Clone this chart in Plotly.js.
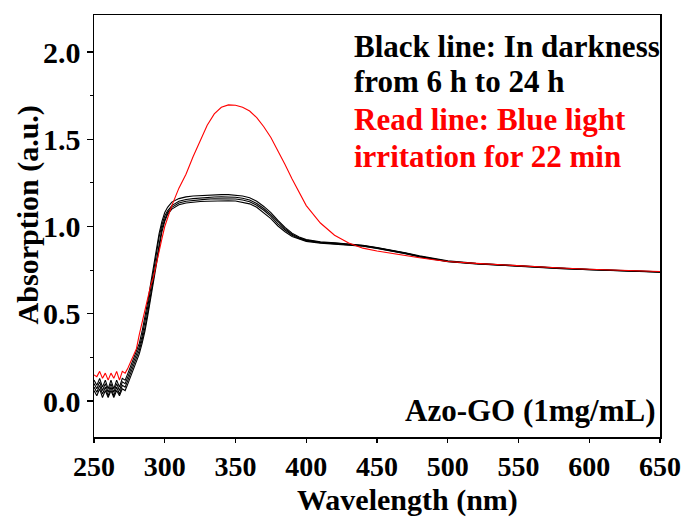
<!DOCTYPE html>
<html>
<head>
<meta charset="utf-8">
<script src="https://cdn.plot.ly/plotly-3.0.1.min.js"></script>
<style>html,body{margin:0;padding:0;background:#fff;}#chart{width:683px;height:518px;}</style>
</head>
<body>
<div id="chart"></div>
<script>
// Wavelength grid (nm)
var wavelength = [250,252,254,256,258,260,262,264,266,268,270,272,274,276,278,280,282,284,286,288,290,292,294,296,298,300,302,305,310,315,320,325,330,335,340,345,350,355,360,365,370,375,380,385,390,395,400,410,420,430,440,450,460,470,480,490,500,520,540,560,580,600,620,650];

// Black lines: in darkness from 6 h to 24 h
var dark1 = [0.12,0.09,0.13,0.08,0.12,0.07,0.12,0.07,0.12,0.08,0.13,0.12,0.16,0.20,0.24,0.28,0.33,0.40,0.48,0.57,0.67,0.77,0.87,0.96,1.03,1.08,1.11,1.14,1.16,1.17,1.175,1.178,1.180,1.182,1.183,1.183,1.180,1.175,1.165,1.145,1.115,1.08,1.035,0.995,0.962,0.94,0.925,0.912,0.907,0.902,0.893,0.880,0.866,0.850,0.832,0.817,0.803,0.789,0.779,0.770,0.762,0.755,0.750,0.741];
var dark2 = [0.10,0.07,0.11,0.06,0.10,0.05,0.10,0.05,0.10,0.06,0.11,0.10,0.14,0.18,0.22,0.26,0.31,0.37,0.45,0.54,0.64,0.74,0.84,0.94,1.01,1.06,1.09,1.12,1.145,1.155,1.16,1.164,1.167,1.169,1.170,1.170,1.168,1.162,1.152,1.132,1.103,1.068,1.025,0.988,0.956,0.936,0.922,0.910,0.905,0.900,0.891,0.878,0.864,0.848,0.830,0.815,0.801,0.788,0.778,0.769,0.761,0.754,0.749,0.740];
var dark3 = [0.08,0.05,0.09,0.04,0.08,0.03,0.08,0.03,0.08,0.04,0.09,0.08,0.12,0.16,0.20,0.24,0.29,0.35,0.42,0.51,0.61,0.71,0.81,0.91,0.99,1.04,1.08,1.11,1.135,1.145,1.150,1.154,1.157,1.159,1.160,1.160,1.158,1.152,1.142,1.122,1.093,1.058,1.015,0.980,0.950,0.932,0.919,0.908,0.903,0.898,0.889,0.876,0.862,0.846,0.828,0.813,0.800,0.787,0.777,0.768,0.760,0.753,0.748,0.739];
var dark4 = [0.06,0.03,0.07,0.02,0.06,0.02,0.06,0.02,0.06,0.03,0.07,0.06,0.10,0.14,0.18,0.22,0.27,0.33,0.40,0.49,0.59,0.69,0.79,0.89,0.97,1.03,1.07,1.10,1.125,1.135,1.140,1.143,1.145,1.147,1.148,1.148,1.146,1.140,1.130,1.110,1.080,1.045,1.003,0.970,0.943,0.927,0.915,0.905,0.900,0.895,0.887,0.874,0.860,0.844,0.826,0.811,0.798,0.786,0.776,0.767,0.759,0.752,0.747,0.738];

// Red line: blue light irradiation for 22 min
var light = [0.15,0.14,0.17,0.13,0.16,0.12,0.16,0.13,0.17,0.12,0.17,0.16,0.19,0.23,0.26,0.30,0.38,0.45,0.52,0.60,0.66,0.71,0.79,0.86,0.93,1.00,1.05,1.12,1.22,1.30,1.40,1.49,1.58,1.645,1.683,1.697,1.695,1.683,1.662,1.624,1.572,1.510,1.435,1.355,1.272,1.192,1.120,1.020,0.950,0.905,0.876,0.860,0.846,0.833,0.821,0.810,0.800,0.789,0.779,0.770,0.762,0.755,0.750,0.742];

// Text labels
var xTitle = 'Wavelength (nm)';
var yTitle = 'Absorption (a.u.)';
var noteLines = ['Black line: In darkness', 'from 6 h to 24 h', 'Read line: Blue light', 'irritation for 22 min'];
var sampleLabel = 'Azo-GO (1mg/mL)';
var xTicks = [250,300,350,400,450,500,550,600,650];
var yTicks = [0, 0.5, 1.0, 1.5, 2.0];
var yTickText = ['0.0','0.5','1.0','1.5','2.0'];

var serif = 'Liberation Serif, Times New Roman, serif';
var darkSeries = [dark1, dark2, dark3, dark4];
var traces = darkSeries.map(function (ys) {
  return {x: wavelength, y: ys, type: 'scatter', mode: 'lines',
          line: {color: '#000000', width: 1.1}, hoverinfo: 'skip', showlegend: false};
});
traces.push({x: wavelength, y: light, type: 'scatter', mode: 'lines',
             line: {color: '#ff0000', width: 1.1}, hoverinfo: 'skip', showlegend: false});

var noteColors = ['#000000', '#000000', '#ff0000', '#ff0000'];
var noteY = [2.032, 1.832, 1.612, 1.402];
var annotations = noteLines.map(function (t, i) {
  return {xref: 'paper', yref: 'y', x: 0.455, y: noteY[i], xanchor: 'left', yanchor: 'middle',
          text: t, showarrow: false,
          font: {family: serif, size: 31, color: noteColors[i], weight: 'bold'}};
});
annotations.push({xref: 'paper', yref: 'y', x: 0.997, y: -0.055, xanchor: 'right', yanchor: 'middle',
  text: sampleLabel, showarrow: false,
  font: {family: serif, size: 31, color: '#000', weight: 'bold'}});
annotations.push({xref: 'paper', yref: 'paper', x: 0.554, y: -0.149, xanchor: 'center', yanchor: 'middle',
  text: xTitle, showarrow: false,
  font: {family: serif, size: 30, color: '#000', weight: 'bold'}});
annotations.push({xref: 'paper', yref: 'paper', x: -0.117, y: 0.527, xanchor: 'center', yanchor: 'middle',
  text: yTitle, showarrow: false, textangle: -90,
  font: {family: serif, size: 30, color: '#000', weight: 'bold'}});

var layout = {
  width: 683, height: 518,
  margin: {l: 94, r: 23, t: 15, b: 81},
  paper_bgcolor: '#ffffff', plot_bgcolor: '#ffffff',
  xaxis: {
    range: [250, 650], tickvals: xTicks,
    ticks: 'outside', ticklen: 4, tickwidth: 1.2, tickcolor: '#000',
    showline: true, linecolor: '#000', linewidth: 1.5, mirror: true,
    showgrid: false, zeroline: false,
    tickfont: {family: serif, size: 28, color: '#000', weight: 'bold'}
  },
  yaxis: {
    range: [-0.206, 2.212], tickvals: yTicks, ticktext: yTickText,
    ticks: 'outside', ticklen: 6, tickwidth: 1.2, tickcolor: '#000',
    minor: {tickvals: [0.25, 0.75, 1.25, 1.75], ticks: 'outside', ticklen: 3, tickcolor: '#000', tickwidth: 1},
    showline: true, linecolor: '#000', linewidth: 1.5, mirror: true,
    showgrid: false, zeroline: false,
    tickfont: {family: serif, size: 30, color: '#000', weight: 'bold'}
  },
  annotations: annotations
};

Plotly.newPlot('chart', traces, layout, {staticPlot: true, displayModeBar: false});
</script>
</body>
</html>
